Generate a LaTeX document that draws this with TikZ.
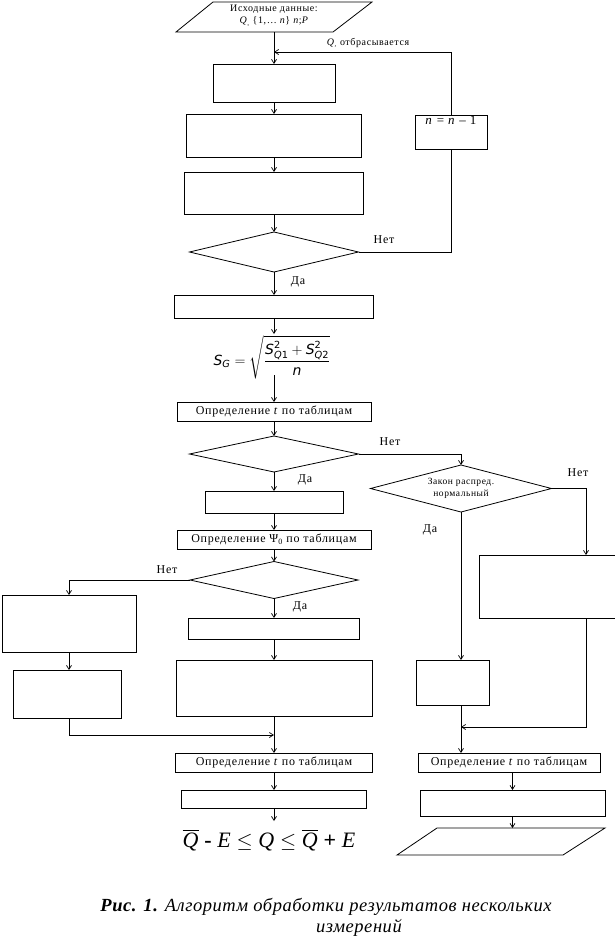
\documentclass[tikz,border=0pt]{standalone}
\usepackage{fontspec}
\usepackage{amsmath}
\setmainfont{Liberation Serif}[LetterSpace=6]
\newfontfamily\capfont{Liberation Serif}[LetterSpace=3]
\newfontfamily\dvsans{DejaVu Sans}
\usetikzlibrary{arrows.meta,shapes.geometric}
\newcommand\dvi[1]{\text{\dvsans\itshape #1}}
\newcommand\dvr[1]{\text{\dvsans #1}}
\begin{document}
\begin{tikzpicture}[x=1pt,y=-1pt,
  box/.style={draw, line width=0.8pt, inner sep=0pt, outer sep=0pt, font=\fontsize{12}{14}\selectfont},
  dia/.style={draw, diamond, line width=0.8pt, inner sep=0pt, outer sep=0pt, aspect=3.8},
  arr/.style={line width=0.8pt, -{Straight Barb[length=4pt,width=5pt,line width=0.7pt]}},
  ln/.style={line width=0.8pt},
  lbl/.style={font=\fontsize{12}{14}\selectfont, inner sep=0pt},
  small/.style={font=\fontsize{10}{12}\selectfont, inner sep=0pt, align=center},
  captext/.style={font=\capfont\fontsize{18.5}{21}\selectfont\itshape, inner sep=0pt}
]
\useasboundingbox (0,0) rectangle (615,940);
\fill[white] (0,0) rectangle (615,940);
\clip (0,0) rectangle (615,940);

% top input parallelogram
\draw[ln] (213,2) -- (372,2) -- (333,32) -- (176,32) -- cycle;
\node[small] (intext) at (274,16) {Исходные данные:\\ \textit{Q}\textsubscript{,} \{1,… \textit{n}\} \textit{n};\textit{P}};
\coordinate (p1b) at (274,32);
\coordinate (fb) at (274,52);

% main column
\node[box, minimum width=122, minimum height=38] (b1) at (274,83) {};
\node[box, minimum width=175, minimum height=43] (b2) at (274,135.5) {};
\node[box, minimum width=179, minimum height=42] (b3) at (274,193) {};
\node[dia, minimum width=169, minimum height=40] (d1) at (274,252) {};
\node[box, minimum width=72, minimum height=34,
  label={[font=\fontsize{13}{15}\selectfont, inner sep=1pt, anchor=north]north:\textit{n} = \textit{n} – 1}] (nb) at (451,132) {};
\node[box, minimum width=199, minimum height=23] (b4) at (274,306.5) {};
\node[inner sep=0pt, font=\fontsize{14}{17}\selectfont] (sg) at (272,357)
  {$\dvi{S}_{\dvi{G}} = \sqrt{\dfrac{\dvi{S}^{\dvr{2}}_{\dvi{Q}\dvr{1}} + \dvi{S}^{\dvr{2}}_{\dvi{Q}\dvr{2}}}{\dvi{n}}}$};
\coordinate (sgin) at (274,334);
\coordinate (sgout) at (274,375);
\node[box, minimum width=194, minimum height=19] (b5) at (274,411.5) {Определение \textit{t} по таблицам};
\node[dia, minimum width=169, minimum height=36] (d2) at (274,454) {};
\node[box, minimum width=138, minimum height=22] (b6) at (274,502) {};
\node[box, minimum width=194, minimum height=19] (b7) at (274,539.5) {Определение Ψ\textsubscript{0} по таблицам};
\node[dia, minimum width=168, minimum height=37] (d3) at (274,580) {};
\node[box, minimum width=134, minimum height=57] (l1) at (69,623.5) {};
\node[box, minimum width=108, minimum height=48] (l2) at (67,694) {};
\node[box, minimum width=171, minimum height=21] (m1) at (274,628.5) {};
\node[box, minimum width=196, minimum height=56] (m2) at (274,688) {};
\coordinate (mj) at (274,735);
\node[box, minimum width=197, minimum height=19] (b8) at (274,762.5) {Определение \textit{t} по таблицам};
\node[box, minimum width=185, minimum height=18] (bb1) at (274,799) {};
\node[inner sep=0pt, font=\fontsize{22}{26}\selectfont] (fq) at (269,840)
  {$\overline{\text{\itshape Q}}\;\textbf{-}\;\text{\itshape E}\leq\text{\itshape Q}\leq\overline{\text{\itshape Q}}\;\textbf{+}\;\text{\itshape E}$};
\coordinate (fqin) at (274,821);

% right column
\node[dia, minimum width=181, minimum height=47, align=center, font=\fontsize{9.5}{12}\selectfont] (d4) at (461,488.5) {Закон распред.\\нормальный};
\node[box, minimum width=214, minimum height=63] (r0) at (586,586.5) {};
\node[box, minimum width=73, minimum height=45] (r1) at (452.5,682.5) {};
\coordinate (rj) at (461,727);
\node[box, minimum width=182, minimum height=19] (b9) at (509,762.5) {Определение \textit{t} по таблицам};
\node[box, minimum width=185, minimum height=26] (b10) at (512.5,803) {};
\draw[ln] (437,828) -- (605,828) -- (563,855) -- (397,855) -- cycle;
\coordinate (p2t) at (512.5,828);

% connectors
\draw[arr] (p1b) -- (b1.north);
\draw[arr] (b1.south) -- (b2.north);
\draw[arr] (b2.south) -- (b3.north);
\draw[arr] (b3.south) -- (d1.north);
\draw[ln] (d1.east) -| (nb.south);
\draw[arr] (nb.north) |- (fb);
\node[small] (qlab) at (368,43) {\textit{Q}\textsubscript{,} отбрасывается};
\node[lbl] (net1) at (384,240) {Нет};
\draw[arr] (d1.south) -- (b4.north);
\node[lbl] (da1) at (298,282) {Да};
\draw[arr] (b4.south) -- (sgin);
\draw[arr] (sgout) -- (b5.north);
\draw[arr] (b5.south) -- (d2.north);
\draw[arr] (d2.east) -| (d4.north);
\node[lbl] (net2) at (390,442) {Нет};
\draw[arr] (d2.south) -- (b6.north);
\node[lbl] (da2) at (305,480) {Да};
\draw[arr] (b6.south) -- (b7.north);
\draw[arr] (b7.south) -- (d3.north);
\draw[arr] (d3.west) -| (l1.north);
\node[lbl] (net3) at (167,570) {Нет};
\draw[arr] (l1.south) -- (l1.south |- l2.north);
\draw[arr] (l1.south |- l2.south) |- (mj);
\draw[arr] (d3.south) -- (m1.north);
\node[lbl] (da3) at (300,607) {Да};
\draw[arr] (m1.south) -- (m2.north);
\draw[arr] (m2.south) -- (b8.north);
\draw[arr] (b8.south) -- (bb1.north);
\draw[arr] (bb1.south) -- (fqin);

\node[lbl] (net4) at (578,473) {Нет};
\draw[arr] (d4.east) -| (r0.north);
\node[lbl] (da4) at (430,530) {Да};
\draw[arr] (d4.south) -- (d4.south |- r1.north);
\draw[arr] (r0.south) |- (rj);
\draw[arr] (d4.south |- r1.south) -- (d4.south |- b9.north);
\draw[arr] (b9.south -| b10.south) -- (b10.north);
\draw[arr] (b10.south) -- (p2t);

% caption
\node[captext] (cap1) at (326,907) {\textbf{Рис. 1.} Алгоритм обработки результатов нескольких};
\node[captext] (cap2) at (359,928) {измерений};
\end{tikzpicture}
\end{document}
